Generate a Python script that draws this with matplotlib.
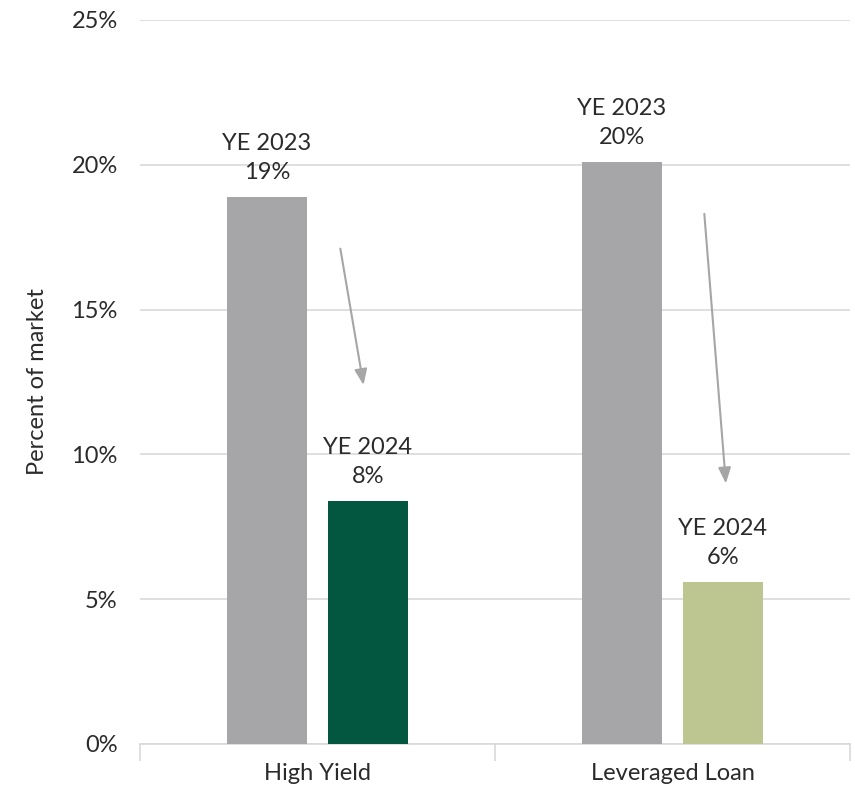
import numpy as np
import matplotlib.pyplot as plt

plt.rcParams.update({'font.family': ['Lato', 'DejaVu Sans']})

# share of market, year end values (percent)
categories = ['High Yield', 'Leveraged Loan']
ye2023 = [18.9, 20.1]
ye2024 = [8.4, 5.6]
ye2024_colors = ['#03563f', '#bdc691']
yticks = [0, 5, 10, 15, 20, 25]

fig = plt.figure(figsize=(8.55, 7.91), dpi=100)
ax = fig.add_axes([140 / 855, 47 / 791, 710 / 855, 724 / 791])

x = np.arange(len(categories))
w = 0.225
off = 0.142
grey = '#a6a6a8'
txt = '#2b2b2b'

ax.bar(x - off, ye2023, width=w, color=grey, zorder=3)
ax.bar(x + off, ye2024, width=w, color=ye2024_colors, zorder=3)

for xi, v in zip(x - off, ye2023):
    ax.annotate(f'YE 2023\n{v:.0f}%', (xi, v), xytext=(0, 10), textcoords='offset points',
                ha='center', va='bottom', fontsize=17, color=txt, linespacing=1.45)
for xi, v in zip(x + off, ye2024):
    ax.annotate(f'YE 2024\n{v:.0f}%', (xi, v), xytext=(0, 10), textcoords='offset points',
                ha='center', va='bottom', fontsize=17, color=txt, linespacing=1.45)

# decline arrows between the two years
arrow = dict(arrowstyle='-|>,head_length=0.95,head_width=0.38', color='#a6a6a6', lw=1.5)
ax.annotate('', xy=(0.131, 12.3), xytext=(0.063, 17.2), arrowprops=arrow)
ax.annotate('', xy=(1.151, 8.9), xytext=(1.089, 18.4), arrowprops=arrow)

ax.set_xlim(-0.5, 1.5)
ax.set_ylim(0, 25)
ax.set_yticks(yticks)
ax.set_yticklabels([f'{t}%' for t in yticks])
ax.yaxis.grid(True, color='#d9d9d9', lw=1.2, zorder=0)
ax.set_axisbelow(True)

ax.set_xticks(x)
ax.set_xticklabels(categories)
ax.set_xticks([-0.5, 0.5, 1.5], minor=True)
ax.tick_params(axis='x', which='major', length=0, pad=14, labelsize=17, labelcolor=txt)
ax.tick_params(axis='x', which='minor', length=12, color='#d9d9d9', width=1.2)
ax.tick_params(axis='y', length=0, pad=16, labelsize=17, labelcolor=txt)

for s in ['top', 'right', 'left']:
    ax.spines[s].set_visible(False)
ax.spines['bottom'].set_color('#d9d9d9')
ax.spines['bottom'].set_linewidth(1.2)

ax.set_ylabel('Percent of market', fontsize=17, color=txt, labelpad=17)

plt.savefig('out.png', dpi=100)
